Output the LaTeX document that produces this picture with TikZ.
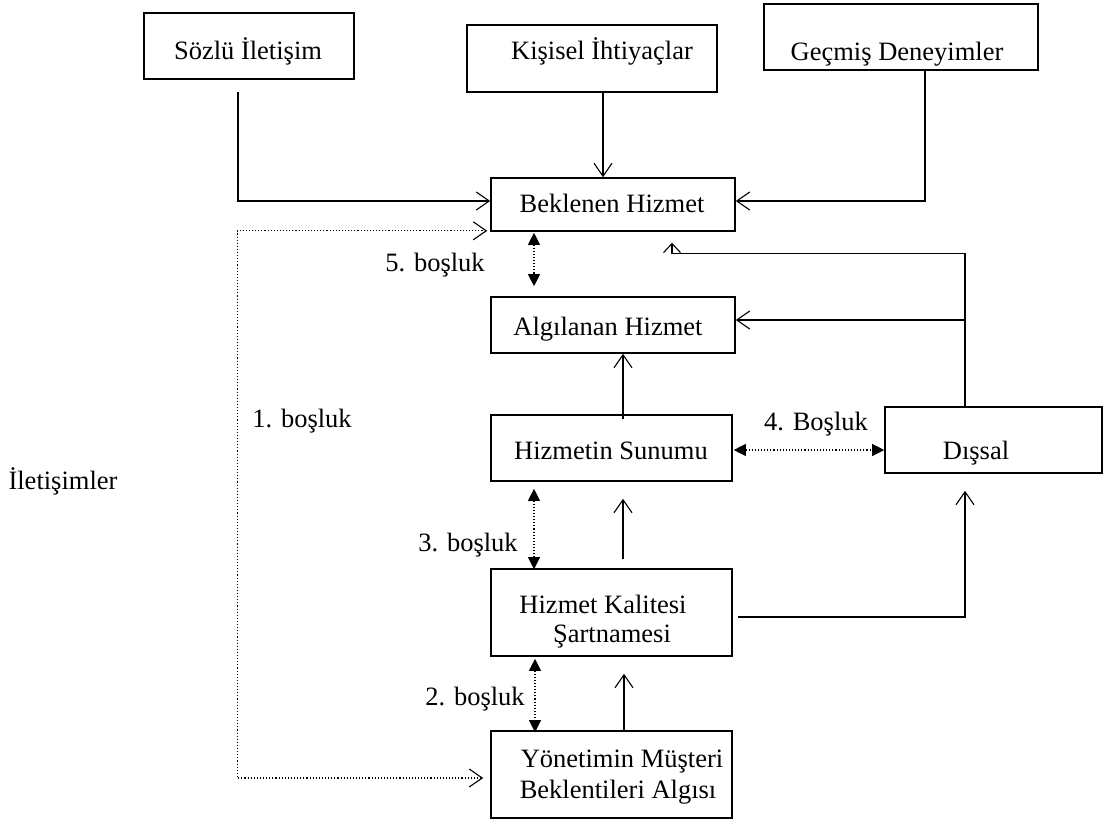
\documentclass[tikz,border=0pt]{standalone}
\usepackage{fontspec}
\setmainfont{Liberation Serif}
\usetikzlibrary{arrows.meta}
\tikzset{
  box/.style={draw, line width=1.6pt, inner sep=0pt, rectangle},
  txt/.style={inner sep=0pt, text height=17.5pt, text depth=0pt, font=\fontsize{26.5}{31}\selectfont},
  conn/.style={line width=1.1pt},
  arr/.style={conn, -{Straight Barb[length=13pt,width=18pt,line width=1.1pt]}},
  flatarr/.style={conn, -{Straight Barb[length=9pt,width=17pt,line width=1.1pt]}},
  dots/.style={line width=1.1pt, dotted},
  dbl/.style={dots, {Triangle[length=12pt,width=12pt]}-{Triangle[length=12pt,width=12pt]}},
  dblopen/.style={dots, {Straight Barb[length=13pt,width=18pt,line width=1.1pt]}-{Straight Barb[length=13pt,width=18pt,line width=1.1pt]}}
}
\begin{document}
\begin{tikzpicture}[x=1pt,y=-1pt]
\useasboundingbox (0,0) rectangle (1110,823);
% boxes
\node[box, minimum width=210pt, minimum height=66pt] (soz) at (249,46) {};
\node[box, minimum width=250pt, minimum height=67pt] (kis) at (592,58.5) {};
\node[box, minimum width=274pt, minimum height=66pt] (gec) at (901,37) {};
\node[box, minimum width=244pt, minimum height=53pt] (bek) at (613,204.5) {};
\node[box, minimum width=244pt, minimum height=56pt] (alg) at (613,325) {};
\node[box, minimum width=241pt, minimum height=66pt] (sun) at (611.5,448) {};
\node[box, minimum width=241pt, minimum height=87pt] (hks) at (611.5,612.5) {};
\node[box, minimum width=241pt, minimum height=87pt] (yon) at (611.5,774.5) {};
\node[box, minimum width=217pt, minimum height=66pt] (dis) at (993.5,440) {};
% texts
\node[txt] (tsoz) at (248,51) {Sözlü İletişim};
\node[txt] (tkis) at (602,51) {Kişisel İhtiyaçlar};
\node[txt] (tgec) at (897,52) {Geçmiş Deneyimler};
\node[txt] (tbek) at (612,204) {Beklenen Hizmet};
\node[txt] (talg) at (608,327) {Algılanan Hizmet};
\node[txt] (tsun) at (611,451) {Hizmetin Sunumu};
\node[txt] (thks1) at (603,605) {Hizmet Kalitesi};
\node[txt] (thks2) at (612,634) {Şartnamesi};
\node[txt] (tyon1) at (622,759) {Yönetimin Müşteri};
\node[txt] (tyon2) at (618,790) {Beklentileri Algısı};
\node[txt] (tdis) at (976,451) {Dışsal};
% labels
\node[txt] (l5) at (435,263) {5. boşluk};
\node[txt] (l4) at (816,422) {4. Boşluk};
\node[txt] (l3) at (468,543) {3. boşluk};
\node[txt] (l2) at (475,697) {2. boşluk};
\node[txt] (l1) at (302,419) {1. boşluk};
\node[txt] (lil) at (63,481) {İletişimler};
% connectors
\draw[arr] ([xshift=-11pt,yshift=-12pt]soz.south) |- ([yshift=3.5pt]bek.west);
\draw[arr] ([xshift=11pt]kis.south) -- ([xshift=-10pt]bek.north);
\draw[arr] ([xshift=24pt]gec.south) |- ([yshift=3.5pt]bek.east);
\draw[dblopen] ([xshift=-3pt,yshift=1pt]bek.south west) -- ++(-250,0) |- ([xshift=-7pt,yshift=-3.5pt]yon.west);
\draw[dbl] ([xshift=-79pt,yshift=-1pt]bek.south) -- ([xshift=-79pt,yshift=10pt]alg.north);
\draw[conn] ([xshift=-28.5pt]dis.north) |- ([xshift=59pt,yshift=-22pt]bek.south);
\draw[flatarr] ([xshift=59pt,yshift=-22pt]bek.south) -- ([xshift=59pt,yshift=-11pt]bek.south);
\coordinate (dx) at (965,320);
\draw[arr] (dx) -- ([yshift=5pt]alg.east);
\draw[arr] ([xshift=11.5pt,yshift=-5pt]sun.north) -- ([xshift=10pt]alg.south);
\draw[dbl] ([xshift=1pt,yshift=-2pt]sun.east) -- ([yshift=-10pt]dis.west);
\draw[dbl] ([xshift=-77.5pt,yshift=-7pt]sun.south) -- ([xshift=-77.5pt,yshift=-1pt]hks.north);
\draw[arr] ([xshift=11.5pt,yshift=9pt]hks.north) -- ([xshift=11.5pt,yshift=-17pt]sun.south);
\draw[arr] ([xshift=5pt,yshift=-4.5pt]hks.east) -| ([xshift=-28.5pt,yshift=-17pt]dis.south);
\draw[dbl] ([xshift=-76.5pt,yshift=-2pt]hks.south) -- ([xshift=-76.5pt,yshift=-2pt]yon.north);
\draw[arr] ([xshift=12.5pt]yon.north) -- ([xshift=12.5pt,yshift=-17pt]hks.south);
\end{tikzpicture}
\end{document}
